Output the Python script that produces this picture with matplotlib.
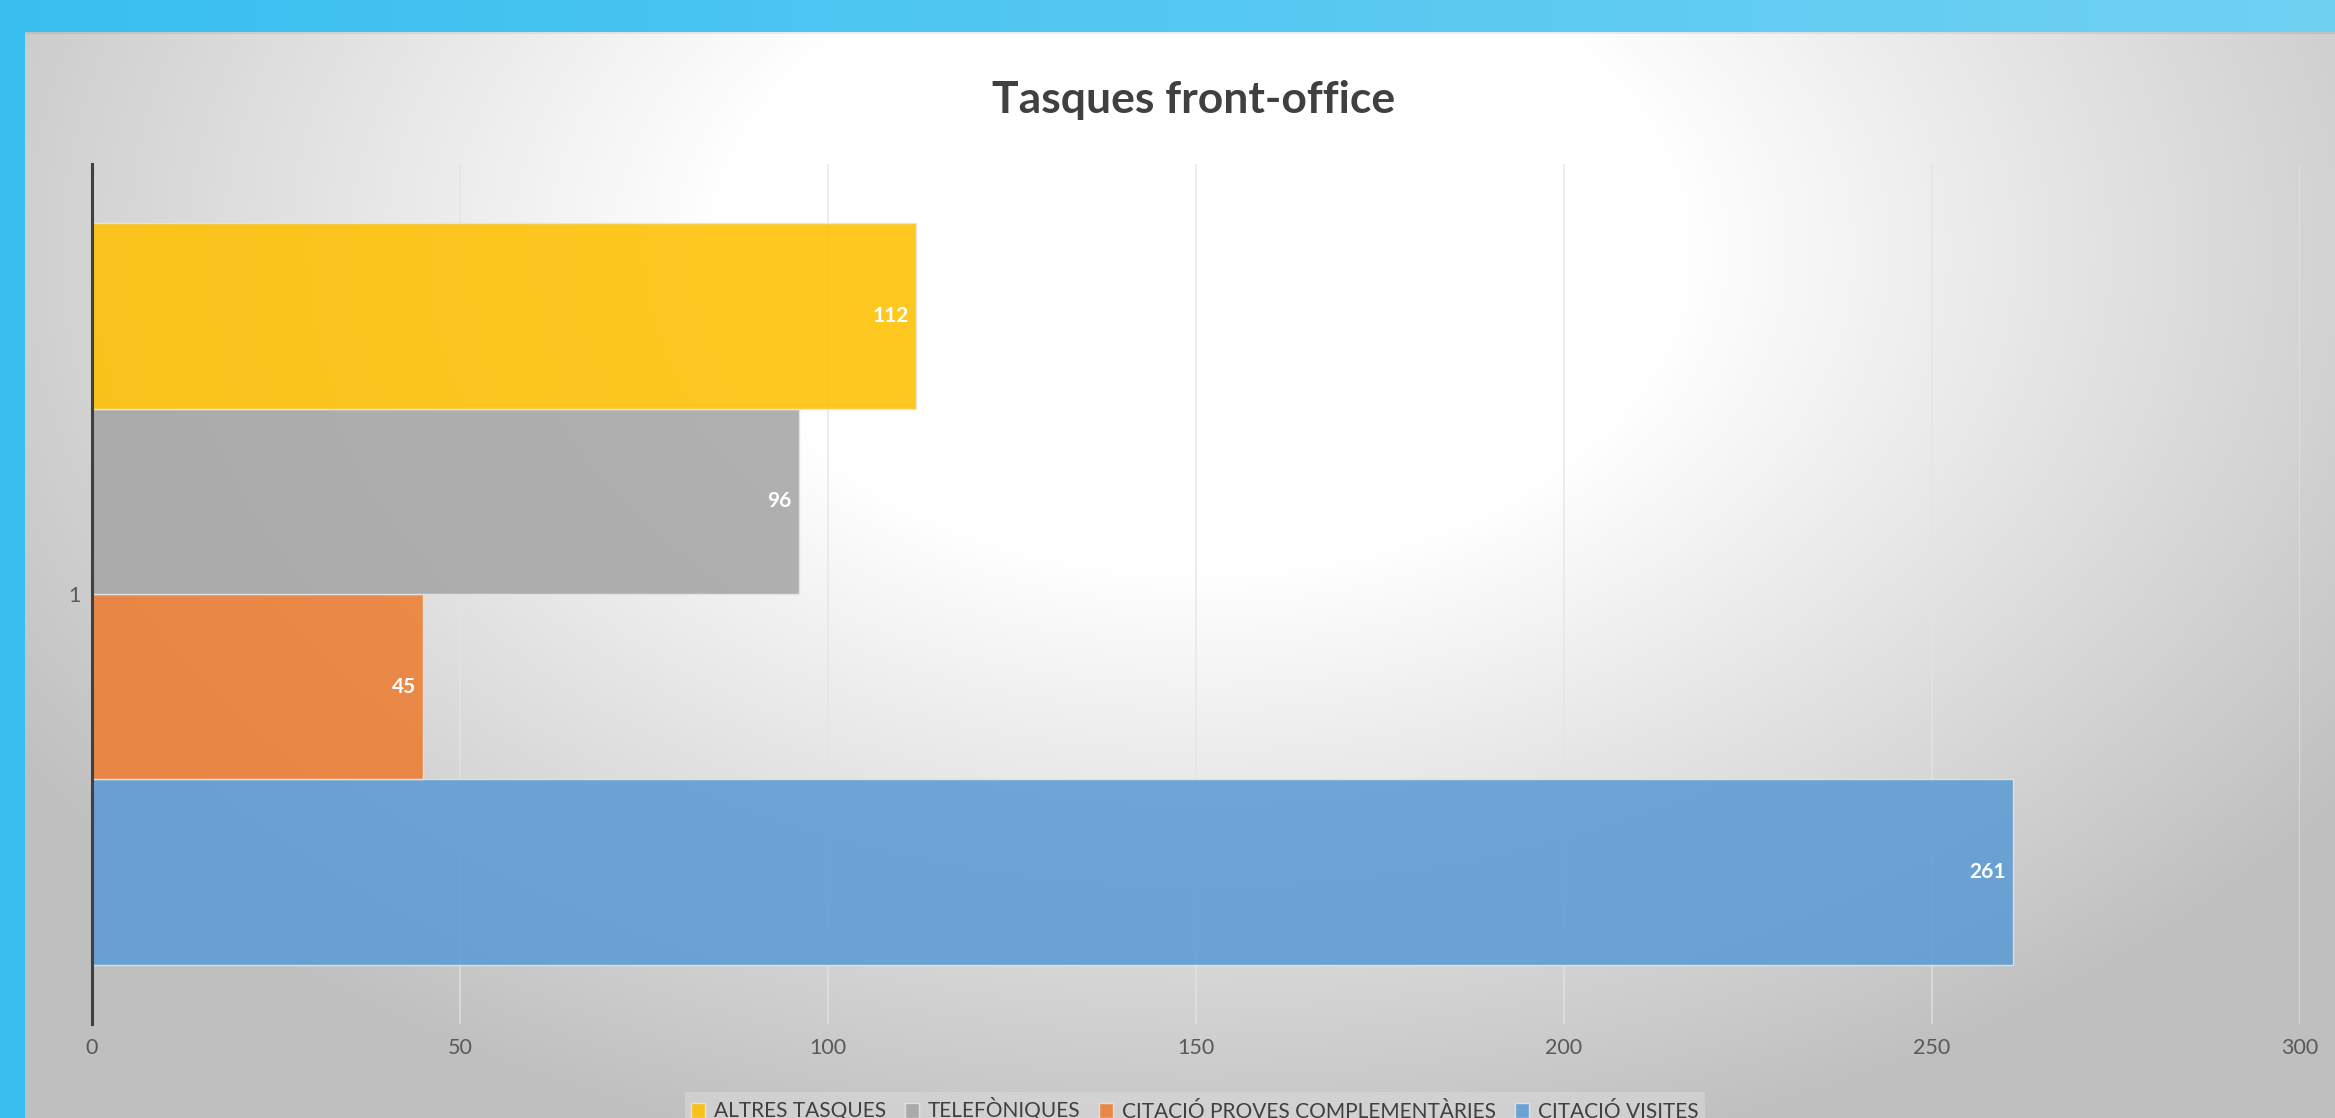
import numpy as np
import matplotlib
matplotlib.use("Agg")
import matplotlib.pyplot as plt

plt.rcParams['font.family'] = ['Lato', 'DejaVu Sans']

# data (bottom to top, as drawn)
series = ["CITACIÓ VISITES", "CITACIÓ PROVES COMPLEMENTÀRIES", "TELEFÒNIQUES", "ALTRES TASQUES"]
values = [261, 45, 96, 112]
colors = ["#5B9BD5", "#ED7D31", "#A5A5A5", "#FFC000"]
category = "1"
xticks = [0, 50, 100, 150, 200, 250, 300]

W, H = 2335, 1118
fig = plt.figure(figsize=(W / 100, H / 100), dpi=100)

# background: blue frame on top/left, radial grey gradient inside
bg = fig.add_axes([0, 0, 1, 1], zorder=-10)
bg.set_axis_off()
yy, xx = np.mgrid[0:H, 0:W]
d = np.hypot(xx - 1200, (yy - 250) * 1.5)
t = np.clip((d - 480) / 940, 0, 1)
g = 255 - 64 * t
img = np.dstack([g, g, g]) / 255.0
# blue frame
fx = xx / W
blue = np.dstack([0x38 + (0x70 - 0x38) * fx, 0xBF + (0xD1 - 0xBF) * fx, 0xF0 + (0xF3 - 0xF0) * fx]) / 255.0
frame = (yy < 32) | (xx < 25)
img[frame] = blue[frame]
edge = (yy >= 32) & (yy < 34) & (xx >= 25)
img[edge] = img[edge] * 0.93
bg.imshow(img, extent=[0, 1, 0, 1], aspect='auto', interpolation='bilinear')
bg.set_xlim(0, 1)
bg.set_ylim(0, 1)

ax = fig.add_axes([92 / W, 94 / H, (2300 - 92) / W, (1024 - 164) / H])
ax.set_facecolor('none')

ypos = np.arange(len(values))
bars = []
for i in range(len(values)):
    b = ax.barh(ypos[i], values[i], height=1.0, color=colors[i], alpha=0.87,
                edgecolor='#E6E6E6', linewidth=1.0, label=series[i], zorder=3)
    bars.append(b)
    ax.annotate(str(values[i]), xy=(values[i], ypos[i]), xytext=(-5, 0),
                textcoords='offset points', ha='right', va='center',
                color='white', fontsize=15, fontweight='bold', zorder=4)

ax.set_xlim(0, 300)
ax.set_ylim(-0.82, 3.82)
ax.set_xticks(xticks)
ax.set_xticklabels([str(v) for v in xticks])
ax.set_yticks([1.5])
ax.set_yticklabels([category])
ax.tick_params(axis='both', length=0, labelsize=15.5, colors='#595959')
ax.tick_params(axis='x', pad=10)
ax.tick_params(axis='y', pad=8)
ax.grid(axis='x', color='#E4E4E4', alpha=0.8, linewidth=1.2, zorder=0)
for s in ['top', 'right', 'bottom']:
    ax.spines[s].set_visible(False)
ax.spines['left'].set_color('#404040')
ax.spines['left'].set_linewidth(2.2)
ax.spines['left'].set_zorder(5)

fig.text(1194 / W, 1 - 100 / H, "Tasques front-office", ha='center', va='center',
         fontsize=32, fontweight='bold', color='#404040')

handles = bars[::-1]
labels = series[::-1]
leg = fig.legend(handles, labels, loc='center', bbox_to_anchor=(1195 / W, 1 - 1110 / H),
                 ncol=4, fontsize=15, frameon=True, fancybox=False,
                 handlelength=0.65, handleheight=0.75, handletextpad=0.45,
                 columnspacing=0.9, borderpad=0.3, labelcolor='#404040')
leg.get_frame().set_facecolor('#D9D9D9')
leg.get_frame().set_alpha(0.6)
leg.get_frame().set_linewidth(0)

fig.savefig('out.png', dpi=100)
